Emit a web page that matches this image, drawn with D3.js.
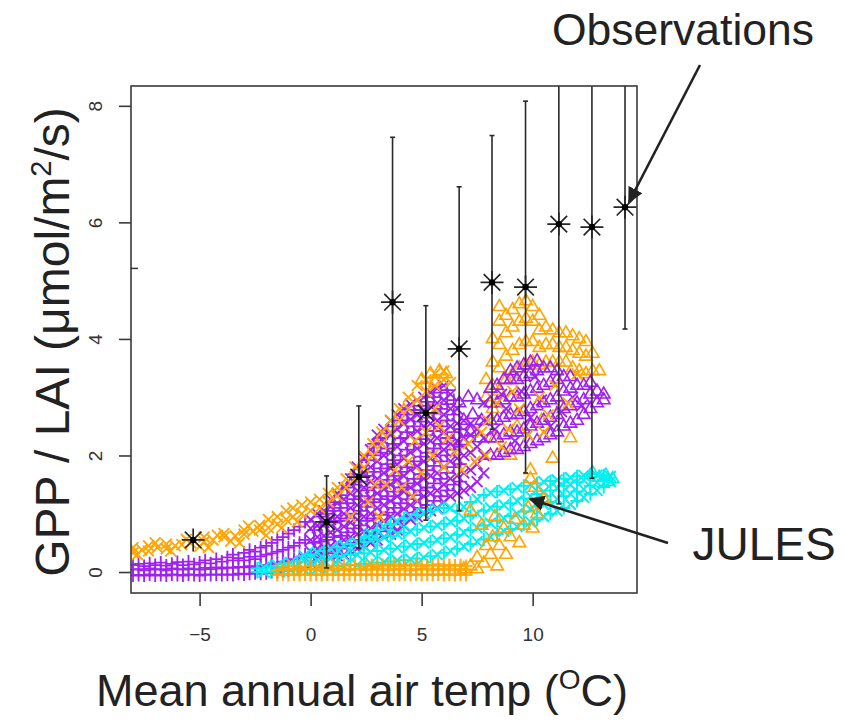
<!DOCTYPE html>
<html>
<head>
<meta charset="utf-8">
<script src="https://cdn.jsdelivr.net/npm/d3@7"></script>
<style>
  html, body { margin: 0; padding: 0; background: #fff; }
  svg { display: block; }
  text { font-family: "Liberation Sans", Arial, Helvetica, sans-serif; }
</style>
</head>
<body>
<svg id="chart" width="844" height="725"></svg>
<script>
// ---- Observations: mean GPP/LAI per temperature bin, with +/- 1 sd ----
const obsTemp  = [-5.29, 0.72, 2.17, 3.69, 5.19, 6.69, 8.17, 9.68, 11.18, 12.67, 14.16];
const obsValue = [0.55, 0.86, 1.63, 4.63, 2.73, 3.83, 4.97, 4.89, 5.97, 5.92, 6.26];
const obsLow   = [0.55, 0.07, 0.41, 1.80, 0.89, 1.05, 2.45, 1.70, 1.17, 1.61, 4.17];
const obsHigh  = [0.55, 1.65, 2.85, 7.46, 4.57, 6.61, 7.49, 8.08, 10.77, 10.23, 8.35];

// ---- JULES site-years, stored as columns: [temp, gpp/lai, gpp/lai, ...] ----
// purple run, low band (pch 3)
const purplePlusCols = [
  [-8.0,-0.06,0.04,0.12],[-7.75,-0.05,0.05,0.14],[-7.5,-0.06,0.03,0.10],[-7.25,-0.04,0.06,0.15],
  [-7.0,-0.06,0.04,0.12],[-6.75,-0.05,0.05,0.16],[-6.5,-0.06,0.03,0.11],[-6.25,-0.04,0.06,0.14],
  [-6.0,-0.05,0.05,0.17],[-5.75,-0.06,0.04,0.12],[-5.5,-0.04,0.06,0.18],[-5.25,-0.05,0.05,0.13],
  [-5.0,-0.06,0.04,0.16],[-4.75,-0.04,0.07,0.20],[-4.5,-0.05,0.05,0.15],[-4.25,-0.04,0.08,0.22],
  [-4.0,-0.05,0.06,0.18],[-3.75,-0.04,0.08,0.25],[-3.5,-0.05,0.07,0.20,0.30],[-3.25,-0.03,0.09,0.24],
  [-3.0,-0.04,0.08,0.20,0.33],[-2.75,-0.03,0.10,0.26,0.38],[-2.5,-0.02,0.08,0.22,0.35],
  [-2.25,-0.03,0.10,0.27,0.42],[-2.0,-0.02,0.12,0.30,0.45],[-1.75,0.0,0.14,0.32,0.50],
  [-1.5,0.0,0.15,0.35,0.55],[-1.25,0.02,0.18,0.38,0.60],[-1.0,0.03,0.20,0.42,0.66],
  [-0.75,0.05,0.22,0.45,0.72],[-0.5,0.06,0.25,0.50,0.78],[-0.25,0.08,0.30,0.55,0.86]
];
// purple run, rising part (pch 3)
const purplePlusRiseCols = [
  [0.15,0.25,0.50,0.72],[0.45,0.30,0.52,0.78,0.95],[0.75,0.32,0.55,0.80,1.00],
  [1.05,0.35,0.60,0.85,1.05,1.20],[1.35,0.40,0.62,0.88,1.10,1.32],[1.65,0.45,0.68,0.92,1.18,1.45],
  [1.95,0.50,0.75,1.00,1.25,1.50,1.68],[2.25,0.55,0.80,1.05,1.30,1.55,1.80],
  [2.55,0.60,0.88,1.12,1.40,1.65,1.92],[2.85,0.65,0.92,1.20,1.45,1.72,2.00,2.20],
  [3.15,0.70,0.98,1.25,1.50,1.78,2.05,2.30],[3.45,0.75,1.02,1.30,1.58,1.85,2.12,2.38],
  [3.75,0.82,1.10,1.38,1.65,1.92,2.20,2.50],[4.05,0.88,1.18,1.45,1.72,2.00,2.30,2.60],
  [4.35,0.95,1.25,1.52,1.80,2.10,2.40,2.70],[4.65,1.02,1.32,1.60,1.90,2.20,2.50,2.78],
  [4.95,1.10,1.40,1.68,1.98,2.28,2.58,2.85],[5.25,1.15,1.45,1.75,2.05,2.35,2.65,2.92],
  [5.55,1.22,1.52,1.82,2.12,2.42,2.72,3.00],[5.85,1.30,1.60,1.90,2.20,2.50,2.80,3.08],
  [6.15,1.40,1.70,2.00,2.30,2.60,2.88,3.12],[6.45,1.50,1.80,2.10,2.40,2.70,2.95],
  [6.75,1.55,1.85,2.15,2.45]
];
// purple run (pch 4)
const purpleCrossCols = [
  [0.0,0.15,0.35,0.55,0.75,0.90],[0.3,0.20,0.40,0.60,0.80,1.00],[0.6,0.20,0.42,0.62,0.85,1.05],
  [0.9,0.25,0.45,0.68,0.90,1.12,1.25],[1.2,0.28,0.50,0.72,0.95,1.18,1.35],
  [1.5,0.30,0.55,0.78,1.00,1.25,1.45],[1.8,0.35,0.60,0.85,1.10,1.35,1.60],
  [2.1,0.40,0.65,0.90,1.15,1.40,1.65,1.80],[2.4,0.45,0.70,0.95,1.20,1.45,1.70,1.95],
  [2.7,0.50,0.75,1.00,1.28,1.55,1.80,2.10],[3.0,0.55,0.82,1.10,1.35,1.60,1.90,2.20,2.35],
  [3.3,0.60,0.88,1.15,1.42,1.70,2.00,2.25,2.45],[3.6,0.65,0.95,1.22,1.50,1.78,2.05,2.35,2.60],
  [3.9,0.72,1.00,1.30,1.58,1.85,2.15,2.45,2.70],[4.2,0.80,1.08,1.38,1.65,1.95,2.25,2.55,2.80],
  [4.5,0.90,1.15,1.45,1.75,2.05,2.35,2.62,2.88],[4.8,0.95,1.22,1.52,1.82,2.12,2.42,2.70,2.95],
  [5.1,1.00,1.30,1.60,1.90,2.20,2.50,2.78,3.00],[5.4,1.05,1.35,1.65,1.95,2.25,2.55,2.85,3.08],
  [5.7,1.10,1.40,1.70,2.00,2.30,2.60,2.90,3.15],[6.0,1.20,1.50,1.80,2.10,2.40,2.70,2.95,3.20],
  [6.3,1.30,1.60,1.90,2.20,2.50,2.80,3.05],[6.6,1.35,1.65,1.95,2.25,2.55,2.80],
  [6.9,1.40,1.70,2.00,2.30,2.60],[7.2,1.45,1.75,2.05,2.35,2.55],[7.5,1.55,1.85,2.15,2.45],
  [7.8,1.70,2.00,2.30,2.60,2.90],
  [8.3,2.45],[8.8,2.80],[9.2,2.25],[9.5,3.10],[9.9,2.65],[10.4,2.95],[10.8,2.50],
  [11.3,2.75],[11.8,3.00],[12.2,2.85],[8.6,3.05],[10.1,3.35]
];
// purple run, warm sites (pch 2)
const purpleTriCols = [
  [6.7,2.90],[6.9,2.60],[7.1,3.00],[7.3,2.70],[7.5,2.95],[7.7,2.60],[7.2,2.40],[6.8,2.25],[7.6,2.30],
  [8.1,2.00,2.30,2.60,2.90,3.15],[8.4,2.00,2.30,2.60,2.90,3.20],[8.7,2.05,2.35,2.65,2.95,3.30],
  [9.0,2.10,2.40,2.70,3.00,3.30,3.45],[9.3,2.10,2.40,2.70,3.00,3.30,3.50],
  [9.6,2.15,2.45,2.75,3.05,3.35,3.55],[9.9,2.20,2.50,2.80,3.10,3.40,3.60],
  [10.2,2.25,2.55,2.85,3.15,3.45,3.62],[10.5,2.30,2.60,2.90,3.20,3.50],
  [10.8,2.35,2.65,2.95,3.25,3.50],[11.1,2.40,2.70,3.00,3.30,3.45],[11.4,2.50,2.80,3.10,3.35],
  [11.7,2.55,2.85,3.15,3.35],[12.0,2.60,2.90,3.20],[12.3,2.70,2.95,3.20],[12.6,2.80,3.05,3.25],
  [12.9,2.90,3.10],[13.2,2.95,3.05]
];
// orange run, cold to mid sites (pch 4)
const orangeCrossCols = [
  [-8.0,0.33,0.42],[-7.6,0.38],[-7.3,0.36,0.45],[-6.9,0.42],[-6.5,0.40,0.48],[-6.1,0.45],
  [-5.8,0.47],[-5.4,0.50],[-4.8,0.52,0.60],[-4.4,0.55],[-3.9,0.60,0.66],[-3.4,0.62],
  [-3.0,0.65,0.72],[-2.6,0.70],[-2.3,0.72,0.80],[-1.9,0.76,0.90],[-1.5,0.82,0.95],
  [-1.1,0.90,1.05],[-0.8,0.95,1.10],[-0.4,1.00,1.15],[0.0,1.05,1.20],[0.4,1.10,1.25],
  [0.8,1.20,1.35],[1.2,1.30,1.45],[1.6,1.45,1.60],[2.0,1.60,1.80],[2.4,1.80,2.00],
  [2.8,2.00,2.20],[3.2,2.20,2.40],[3.6,2.40,2.60],[4.0,2.60,2.80],[4.4,2.80,3.00],
  [4.8,2.95,3.20],[5.2,3.10,3.30],[5.6,3.20,3.40],[6.0,3.30,3.45],[6.3,3.25],
  [-7.8,0.30],[-7.0,0.50],[-6.3,0.36],[-5.6,0.56],[-5.0,0.44],[-4.2,0.63],[-3.6,0.53],
  [-2.8,0.79],[-2.0,0.63],[-1.3,0.76],[-0.6,0.86],[-3.2,0.50],[-4.6,0.42],
  [3.4,1.50],[3.8,1.75],[4.1,1.45],[4.4,1.90],[4.7,2.25],[5.0,1.70],[5.2,2.40],[5.5,2.00],
  [5.8,2.50],[6.0,1.80],[6.2,2.30],[6.5,2.05],[2.6,1.20],[2.9,1.50],[3.1,0.95],[1.8,0.95],
  [5.6,2.80],[4.6,1.30],[6.8,1.75],[7.1,2.20],[7.4,1.90],[7.7,2.40],[7.9,2.00]
];
// orange run, warm sites mixed into the purple cloud (pch 4)
const orangeCrossWarmCols = [
  [8.0,2.60],[8.4,2.90],[8.9,2.45],[9.4,2.80],[9.8,2.35],[10.3,3.00],[10.7,2.70],[11.0,3.20],
  [11.6,2.90],[12.0,3.40],[8.6,2.15],[9.1,3.10],[10.5,2.40]
];
// orange run, warm sites (pch 2)
const orangeTriCols = [
  [5.0,3.30],[5.4,3.40],[5.8,3.45],[6.1,3.40],[5.6,3.25],
  [7.9,3.00,3.30],[8.2,2.80,3.20,3.60,4.00],[8.5,3.10,3.50,3.90,4.30,4.55],
  [8.8,3.30,3.70,4.10,4.40],[9.1,3.40,3.80,4.20,4.50],[9.4,3.50,3.90,4.30,4.60],
  [9.7,3.55,3.95,4.35,4.65],[10.0,3.60,3.95,4.30,4.55],[10.3,3.55,3.85,4.15,4.40],
  [10.6,3.60,3.90,4.20],[10.9,3.60,3.90,4.15],[11.2,3.60,3.85,4.10],[11.5,3.60,3.85,4.10],
  [11.8,3.50,3.80,4.05],[12.1,3.45,3.75,4.00],[12.4,3.40,3.70,3.95],[12.7,3.45,3.75],[13.0,3.45],
  [8.3,2.30],[9.0,2.00],[9.3,2.50],[9.9,1.75],[10.4,2.60],[10.9,1.95],[11.3,2.85],[11.7,2.30]
];
// orange run, near-zero sites (pch 3)
const orangeFlatCols = [
  [-1.5,-0.05,0.03],[-1.25,-0.04,0.05],[-1.0,-0.05,0.04,0.10],[-0.75,-0.04,0.05],
  [-0.5,-0.05,0.03,0.09],[-0.25,-0.04,0.05],[0.0,-0.05,0.04,0.10],[0.25,-0.04,0.05],
  [0.5,-0.05,0.03,0.11],[0.75,-0.04,0.05],[1.0,-0.05,0.04,0.10],[1.25,-0.04,0.06],
  [1.5,-0.05,0.03,0.11],[1.75,-0.04,0.05],[2.0,-0.05,0.04,0.12],[2.25,-0.04,0.06],
  [2.5,-0.05,0.03,0.10],[2.75,-0.04,0.05,0.12],[3.0,-0.05,0.04,0.10],[3.25,-0.04,0.06,0.12],
  [3.5,-0.05,0.03,0.11],[3.75,-0.04,0.05,0.13],[4.0,-0.05,0.04,0.10],[4.25,-0.04,0.06,0.12],
  [4.5,-0.05,0.03,0.11],[4.75,-0.04,0.05,0.13],[5.0,-0.05,0.04,0.10],[5.25,-0.04,0.06,0.12],
  [5.5,-0.05,0.03,0.11],[5.75,-0.04,0.05,0.13],[6.0,-0.05,0.04,0.10],[6.25,-0.04,0.06,0.12],
  [6.5,-0.05,0.03,0.11],[6.75,-0.04,0.05,0.12],[7.0,-0.05,0.04,0.10]
];
// orange run, near-zero sites turning upward (pch 2)
const orangeTriLowCols = [
  [6.9,0.05],[7.2,0.10],[7.5,0.05,0.25],[7.8,0.15],[7.9,0.45],[8.1,0.30],[8.2,0.60],[8.4,0.10],
  [8.5,0.45],[8.7,0.75],[8.8,0.30],[9.0,0.60],[9.2,0.90],[9.4,0.50],[9.6,0.80],[9.8,1.10],
  [10.0,0.75],[10.2,1.00],[10.1,1.45],[9.9,1.60],[7.2,1.05],[7.7,0.80],[8.3,0.95],[10.5,1.25]
];
// cyan run (pch 3 / 4)
const cyanCols = [
  [-2.4,0.0,0.06],[-2.1,0.0,0.08],[-1.8,0.0,0.10],[-1.5,0.02,0.12],[-1.2,0.02,0.14],
  [-0.9,0.03,0.16],[-0.6,0.04,0.18],[-0.3,0.05,0.20,0.28],[0.0,0.05,0.18,0.30],
  [0.3,0.06,0.20,0.34],[0.6,0.08,0.22,0.36],[0.9,0.08,0.24,0.40],[1.2,0.10,0.26,0.42],
  [1.5,0.10,0.28,0.46],[1.8,0.12,0.30,0.48],[2.1,0.12,0.30,0.50],[2.4,0.14,0.32,0.52,0.60],
  [2.7,0.15,0.34,0.55,0.66],[3.0,0.16,0.36,0.56,0.72],[3.3,0.17,0.38,0.60,0.78],
  [3.6,0.18,0.40,0.62,0.82],[3.9,0.20,0.42,0.65,0.87],[4.2,0.20,0.44,0.68,0.92],
  [4.5,0.22,0.46,0.70,0.95],[4.8,0.23,0.48,0.73,0.98],[5.1,0.25,0.50,0.76,1.02],
  [5.4,0.27,0.52,0.78,1.05],[5.7,0.30,0.55,0.80,1.08],[6.0,0.33,0.58,0.83,1.10],
  [6.3,0.36,0.60,0.86,1.10],[6.6,0.40,0.64,0.88,1.05],[6.9,0.44,0.68,0.92,1.12],
  [7.2,0.48,0.72,0.96,1.20],[7.5,0.52,0.76,1.00,1.25],[7.8,0.56,0.80,1.05,1.32],
  [8.1,0.60,0.84,1.10,1.36],[8.4,0.65,0.88,1.12,1.38],[8.7,0.70,0.92,1.15,1.40],
  [9.0,0.74,0.96,1.18,1.42],[9.3,0.78,1.00,1.22,1.45],[9.6,0.82,1.04,1.26,1.48],
  [9.9,0.86,1.08,1.30,1.50],[10.2,0.90,1.12,1.34,1.52],[10.5,0.95,1.16,1.38,1.55],
  [10.8,1.00,1.20,1.40,1.56],[11.1,1.05,1.25,1.44,1.58],[11.4,1.10,1.30,1.48,1.60],
  [11.7,1.16,1.34,1.50,1.62],[12.0,1.22,1.38,1.54,1.64],[12.3,1.28,1.42,1.58,1.66],
  [12.6,1.34,1.48,1.62,1.68],[12.9,1.40,1.54,1.66],[13.2,1.46,1.58,1.66],[13.5,1.55,1.64]
];
// cyan run, warmest sites (pch 2)
const cyanTriCols = [[13.0,1.62],[13.3,1.66],[13.6,1.60],[12.7,1.70],[13.4,1.55]];

// axis ticks
const xTicks = [-5, 0, 5, 10];
const yTicks = [0, 2, 4, 6, 8];

// ---------------------------------------------------------------------------
const svg = d3.select("#chart");
const frame = { left: 131, right: 637, top: 86, bottom: 593 };

const x = d3.scaleLinear().domain([-8.09, 14.7]).range([frame.left, frame.right]);
const y = d3.scaleLinear().domain([-0.36, 8.34]).range([frame.bottom, frame.top]);

const ORANGE = "#FFA500", PURPLE = "#A020F0", CYAN = "#00F0F0", INK = "#262626";

const expand = cols => cols.flatMap(c => c.slice(1).map(v => [c[0], v]));

svg.append("defs").append("clipPath").attr("id", "plotClip")
  .append("rect")
  .attr("x", frame.left).attr("y", frame.top)
  .attr("width", frame.right - frame.left).attr("height", frame.bottom - frame.top);

const plot = svg.append("g").attr("clip-path", "url(#plotClip)");

// marker glyphs in the style of R's pch 2, 3, 4
const glyph = {
  cross: "M-5.4,-5.4L5.4,5.4M-5.4,5.4L5.4,-5.4",
  plus: "M-6.6,0H6.6M0,-6.6V6.6",
  tri: "M0,-7.2L6.3,3.7L-6.3,3.7Z"
};

function scatter(cols, shape, color, opacity = 1, width = 1.8) {
  plot.append("g")
    .selectAll("path")
    .data(expand(cols))
    .join("path")
    .attr("d", glyph[shape])
    .attr("transform", d => `translate(${x(d[0])},${y(d[1])})`)
    .attr("fill", "none")
    .attr("stroke", color)
    .attr("stroke-width", width)
    .attr("opacity", opacity);
}

// drawing order: later layers sit on top
scatter(orangeTriCols, "tri", ORANGE, 1, 1.6);
scatter(purplePlusCols, "plus", PURPLE);
scatter(purplePlusRiseCols, "plus", PURPLE);
scatter(purpleCrossCols, "cross", PURPLE);
scatter(purpleTriCols, "tri", PURPLE, 1, 1.6);
scatter(orangeCrossCols, "cross", ORANGE);
scatter(orangeCrossWarmCols, "cross", ORANGE);
scatter(cyanCols.filter((c, i) => i % 2 === 0), "plus", CYAN, 1, 2);
scatter(cyanCols.filter((c, i) => i % 2 === 1), "cross", CYAN, 1, 2);
scatter(orangeFlatCols, "plus", ORANGE, 0.85, 2.2);
scatter(orangeTriLowCols, "tri", ORANGE, 1, 1.6);
scatter(cyanTriCols, "tri", CYAN, 1, 1.6);

// observation error bars
const obs = obsTemp.map((t, i) => ({ t, v: obsValue[i], lo: obsLow[i], hi: obsHigh[i] }));
const bars = plot.append("g").attr("stroke", "#2a2a2a").attr("stroke-width", 1.6);
bars.selectAll("line.bar").data(obs).join("line").attr("class", "bar")
  .attr("x1", d => x(d.t)).attr("x2", d => x(d.t))
  .attr("y1", d => y(d.lo)).attr("y2", d => y(d.hi));
bars.selectAll("line.capLo").data(obs).join("line").attr("class", "capLo")
  .attr("x1", d => x(d.t) - 2.5).attr("x2", d => x(d.t) + 2.5)
  .attr("y1", d => y(d.lo)).attr("y2", d => y(d.lo));
bars.selectAll("line.capHi").data(obs).join("line").attr("class", "capHi")
  .attr("x1", d => x(d.t) - 2.5).attr("x2", d => x(d.t) + 2.5)
  .attr("y1", d => y(d.hi)).attr("y2", d => y(d.hi));

// observation means: asterisk with a filled centre
const star = "M-11.5,0H11.5M0,-11.5V11.5M-8.3,-8.3L8.3,8.3M-8.3,8.3L8.3,-8.3";
const pts = plot.append("g");
pts.selectAll("path").data(obs).join("path")
  .attr("d", star)
  .attr("transform", d => `translate(${x(d.t)},${y(d.v)})`)
  .attr("fill", "none").attr("stroke", INK).attr("stroke-width", 1.7);
pts.selectAll("circle").data(obs).join("circle")
  .attr("cx", d => x(d.t)).attr("cy", d => y(d.v)).attr("r", 3.2)
  .attr("fill", "#000");

// box
svg.append("rect")
  .attr("x", frame.left).attr("y", frame.top)
  .attr("width", frame.right - frame.left).attr("height", frame.bottom - frame.top)
  .attr("fill", "none").attr("stroke", "#3a3a3a").attr("stroke-width", 1.6);

// x axis
const xAxis = svg.append("g")
  .attr("transform", `translate(0,${frame.bottom})`)
  .call(d3.axisBottom(x).tickValues(xTicks).tickSize(13).tickPadding(22)
    .tickFormat(d => d < 0 ? "\u2212" + Math.abs(d) : d));
xAxis.select(".domain").remove();
xAxis.selectAll("line").attr("stroke", "#3a3a3a").attr("stroke-width", 1.6);
xAxis.selectAll("text").attr("font-size", 19).attr("fill", "#333")
  .attr("font-family", "'DejaVu Sans', 'Liberation Sans', sans-serif");

// y axis, labels parallel to the axis
const yAxis = svg.append("g")
  .attr("transform", `translate(${frame.left},0)`)
  .call(d3.axisLeft(y).tickValues(yTicks).tickSize(12));
yAxis.select(".domain").remove();
yAxis.selectAll("line").attr("stroke", "#3a3a3a").attr("stroke-width", 1.6);
yAxis.selectAll("text")
  .attr("transform", "rotate(-90)")
  .attr("x", 0).attr("y", -36).attr("dy", "0.35em")
  .attr("text-anchor", "middle")
  .attr("font-size", 19).attr("fill", "#333")
  .attr("font-family", "'DejaVu Sans', 'Liberation Sans', sans-serif");
// stray tick left inside the box
svg.append("line")
  .attr("x1", frame.left).attr("x2", frame.left + 7)
  .attr("y1", y(5.21)).attr("y2", y(5.21))
  .attr("stroke", "#333").attr("stroke-width", 1.5);

// axis titles
const xt = svg.append("text")
  .attr("x", 362).attr("y", 706).attr("text-anchor", "middle")
  .attr("font-size", 45).attr("fill", "#222");
xt.append("tspan").text("Mean annual air temp (");
xt.append("tspan").attr("font-size", 28).attr("dy", -17).text("O");
xt.append("tspan").attr("dy", 17).text("C)");

const yt = svg.append("text")
  .attr("transform", "translate(69,342) rotate(-90)")
  .attr("text-anchor", "middle")
  .attr("font-size", 48).attr("fill", "#222");
yt.append("tspan").text("GPP / LAI (\u03bcmol/m");
yt.append("tspan").attr("font-size", 29).attr("dy", -18).text("2");
yt.append("tspan").attr("dy", 18).text("/s)");

// call-outs
const defs = svg.select("defs");
defs.append("marker").attr("id", "head")
  .attr("viewBox", "0 0 10 10").attr("refX", 9).attr("refY", 5)
  .attr("markerWidth", 6).attr("markerHeight", 6).attr("markerUnits", "strokeWidth")
  .attr("orient", "auto")
  .append("path").attr("d", "M0,0L10,5L0,10Z").attr("fill", "#222");

svg.append("text").attr("x", 683).attr("y", 45).attr("text-anchor", "middle")
  .attr("font-size", 44.5).attr("fill", "#222").text("Observations");
svg.append("line")
  .attr("x1", 700).attr("y1", 65).attr("x2", 629).attr("y2", 202)
  .attr("stroke", "#222").attr("stroke-width", 2.6).attr("marker-end", "url(#head)");

svg.append("text").attr("x", 764).attr("y", 560).attr("text-anchor", "middle")
  .attr("font-size", 46).attr("fill", "#222").text("JULES");
svg.append("line")
  .attr("x1", 668).attr("y1", 543).attr("x2", 530).attr("y2", 499)
  .attr("stroke", "#222").attr("stroke-width", 2.6).attr("marker-end", "url(#head)");
</script>
</body>
</html>
